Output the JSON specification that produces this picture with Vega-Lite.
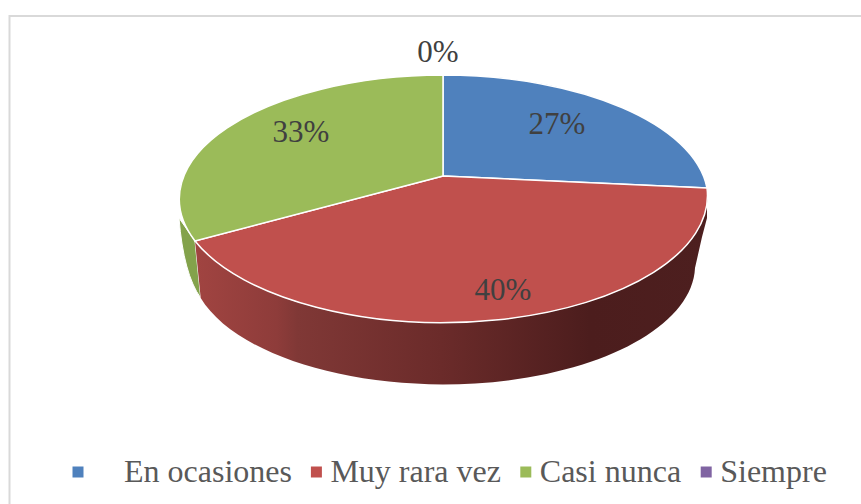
{"$schema":"https://vega.github.io/schema/vega-lite/v6.json","width":861,"height":504,"padding":0,"autosize":"none","background":"white","view":{"stroke":null},"data":{"values":[{"slice":"En ocasiones","share":0.27},{"slice":"Muy rara vez","share":0.40},{"slice":"Casi nunca","share":0.33},{"slice":"Siempre","share":0}]},"encoding":{"color":{"field":"slice","type":"nominal","scale":{"domain":["En ocasiones","Muy rara vez","Casi nunca","Siempre"],"range":["#4f81bd","#c0504d","#9bbb59","#8064a2"]},"legend":{"title":null,"orient":"none","legendX":62,"legendY":456,"direction":"horizontal","columns":4,"gridAlign":"none","columnPadding":8.4,"padding":0,"symbolType":"square","symbolSize":121,"symbolStrokeWidth":0,"symbolOpacity":1,"labelFont":"Liberation Serif","labelFontSize":32,"labelColor":"#595959","labelOffset":-2,"labelLimit":400,"labelExpr":"datum.value === 'En ocasiones' ? '\u200b\u00a0\u00a0\u00a0\u00a0En ocasiones' : datum.label"}}},"layer":[{"data":{"values":[{"frame":"chart area"}]},"mark":{"type":"point","size":4,"filled":false,"shape":"M-421 252 L-421 -236 L431 -236","stroke":"#d9d9d9","strokeWidth":2,"opacity":1},"encoding":{"color":{"value":"#d9d9d9"}}},{"transform":[{"filter":"datum.slice === 'Casi nunca'"}],"mark":{"type":"point","size":4,"filled":true,"opacity":1,"shape":"M-251.5 -34 L-235.5 -11 L-229.8 46 Q-247 22 -251.5 -34 Z","stroke":"white","strokeWidth":1},"encoding":{"color":{"value":"#83a24b"}}},{"transform":[{"filter":"datum.slice === 'Muy rara vez'"}],"mark":{"type":"point","size":4,"filled":true,"opacity":1,"shape":"M276.5 -64 A265 127 0 0 1 -235.5 -11 L-229.8 46 A252 119 0 0 0 264.5 16 L271.5 -15 L276.5 -34 Z"},"encoding":{"color":{"value":{"gradient":"linear","x1":0,"y1":0,"x2":1,"y2":0,"stops":[{"offset":0,"color":"#a14441"},{"offset":0.16,"color":"#8e3c3a"},{"offset":0.2,"color":"#803836"},{"offset":0.48,"color":"#6b2b2a"},{"offset":0.77,"color":"#4c1d1d"},{"offset":1,"color":"#4d1f1f"}]}}}},{"transform":[{"filter":"datum.slice === 'En ocasiones'"}],"mark":{"type":"point","size":4,"filled":true,"opacity":1,"stroke":"white","strokeWidth":1.5,"shape":"M12.5 -76 L12.5 -177 A265 124 0 0 1 276.5 -64 Z"}},{"transform":[{"filter":"datum.slice === 'Muy rara vez'"}],"mark":{"type":"point","size":4,"filled":true,"opacity":1,"stroke":"white","strokeWidth":1.5,"shape":"M12.5 -76 L276.5 -64 A265 127 0 0 1 -235.5 -11 Z"}},{"transform":[{"filter":"datum.slice === 'Casi nunca'"}],"mark":{"type":"point","size":4,"filled":true,"opacity":1,"stroke":"white","strokeWidth":1.5,"shape":"M12.5 -76 L-235.5 -11 A265 124 0 0 1 12.5 -177 Z"}},{"transform":[{"filter":"datum.slice === 'En ocasiones'"}],"mark":{"type":"text","font":"Liberation Serif","fontSize":31,"dx":126.5,"dy":-127},"encoding":{"color":{"value":"#404040"},"text":{"field":"share","type":"quantitative","format":".0%"}}},{"transform":[{"filter":"datum.slice === 'Casi nunca'"}],"mark":{"type":"text","font":"Liberation Serif","fontSize":31,"dx":-129.5,"dy":-119},"encoding":{"color":{"value":"#404040"},"text":{"field":"share","type":"quantitative","format":".0%"}}},{"transform":[{"filter":"datum.slice === 'Muy rara vez'"}],"mark":{"type":"text","font":"Liberation Serif","fontSize":31,"dx":72.5,"dy":39},"encoding":{"color":{"value":"#404040"},"text":{"field":"share","type":"quantitative","format":".0%"}}},{"transform":[{"filter":"datum.slice === 'Siempre'"}],"mark":{"type":"text","font":"Liberation Serif","fontSize":31,"dx":7.5,"dy":-199},"encoding":{"color":{"value":"#404040"},"text":{"field":"share","type":"quantitative","format":".0%"}}}]}
